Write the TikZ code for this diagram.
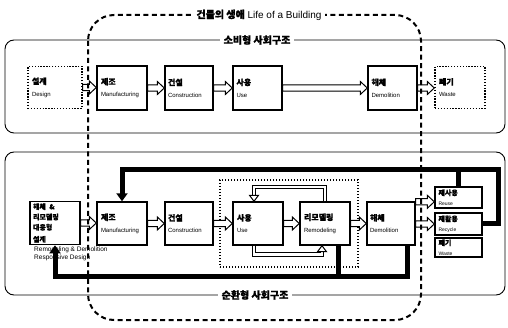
\documentclass[tikz,border=0pt]{standalone}
\usepackage{fontspec}
\setmainfont{Liberation Sans}
\newfontfamily\kr{Noto Sans CJK KR}[FakeBold=1]
\usetikzlibrary{arrows.meta,calc}
\newcommand\mybx[2]{{\kr\bfseries\fontsize{8}{9}\selectfont #1}\\[0pt]{\fontsize{6}{7}\selectfont #2}}
\newcommand\mybxs[2]{{\kr\bfseries\fontsize{7}{8}\selectfont #1}\\[-2pt]{\fontsize{5}{6}\selectfont #2}}
\begin{document}
\begin{tikzpicture}[x=1pt,y=-1pt,
 box/.style={draw, line width=1.4pt, fill=white, inner sep=2pt, align=left, text width=42pt, minimum width=50pt, minimum height=44pt},
 sbox/.style={draw, line width=1.4pt, fill=white, inner sep=1pt, align=left, text width=40pt, minimum width=47pt},
 dbox/.style={box, dash pattern=on 1.3pt off 1.6pt, line width=1.4pt},
 grpbox/.style={draw, dash pattern=on 1.2pt off 1.8pt, line width=1.1pt},
 panel/.style={draw, line width=0.9pt, rounded corners=9pt},
 ptitle/.style={fill=white, inner sep=4pt, font=\kr\bfseries\fontsize{10}{12}\selectfont},
 blockarrow/.style={draw, line width=1pt, fill=white, to path={let \p1=(\tikztostart),\p2=(\tikztotarget) in (\x1,\y1+3.2pt) -- (\x2-7pt,\y1+3.2pt) -- (\x2-7pt,\y1+6.5pt) -- (\x2,\y1) -- (\x2-7pt,\y1-6.5pt) -- (\x2-7pt,\y1-3.2pt) -- (\x1,\y1-3.2pt) -- cycle}},
 heavy/.style={line width=5pt, line join=miter, draw=black},
 heavyarrow/.style={heavy, -{Triangle[length=8pt,width=11pt]}},
 loopline/.style={draw=black, double=white, double distance=2.4pt, line width=1pt},
 looptip/.style={draw, fill=white, line width=1pt},
 bigdash/.style={line width=2pt, dash pattern=on 5pt off 3.5pt},
]
\useasboundingbox (0,0) rectangle (508,328);

% panels
\draw[panel] (5,40) rectangle (505,133);
\draw[panel] (5,152) rectangle (505,295);
\node[ptitle] (t1) at (257,40) {소비형 사회구조};
\node[ptitle] (t2) at (255,295) {순환형 사회구조};

% top row
\node[dbox, minimum width=54pt, minimum height=42pt, text width=46pt] (des1) at (55,87.5) {\mybx{설계}{Design}};
\node[box] (mfg1) at (122,88) {\mybx{제조}{Manufacturing}};
\node[box, minimum width=48pt] (con1) at (189,88) {\mybx{건설}{Construction}};
\node[box, minimum width=49pt] (use1) at (257.5,88) {\mybx{사용}{Use}};
\node[box, minimum width=49pt] (dem1) at (392.5,88) {\mybx{해체}{Demolition}};
\node[dbox, minimum width=50pt, minimum height=42pt] (was1) at (460,87.5) {\mybx{폐기}{Waste}};

\draw[blockarrow] (des1.east) to (mfg1.west);
\draw[blockarrow] (mfg1.east) to (con1.west);
\draw[blockarrow] (con1.east) to (use1.west);
\draw[blockarrow] (use1.east) to (dem1.west);
\draw[blockarrow] (dem1.east) to (was1.west);

% bottom row
\node[grpbox, minimum width=138pt, minimum height=87pt] (grp) at (289,223.5) {};
\node[box, minimum height=40pt, text width=44pt] (des2) at (55,223) {\kr\bfseries\fontsize{7}{10.3}\selectfont 해체 \&\\리모델링\\대응형\\설계};
\node[anchor=north west, inner sep=0pt, align=left, font=\fontsize{6.5}{8}\selectfont] (cap) at (34,246.5) {Remodeling \& Demolition\\Responsive Design};
\node[box, minimum height=43pt] (mfg2) at (122,223.5) {\mybx{제조}{Manufacturing}};
\node[box, minimum width=48pt, minimum height=43pt] (con2) at (189,223.5) {\mybx{건설}{Construction}};
\node[box, minimum height=43pt] (use2) at (258,223.5) {\mybx{사용}{Use}};
\node[box, minimum height=43pt] (rem2) at (325,223.5) {\mybx{리모델링}{Remodeling}};
\node[box, minimum width=48pt, minimum height=43pt] (dem2) at (391,223.5) {\mybx{해체}{Demolition}};
\node[sbox, minimum height=21pt] (reu) at (458.5,197.5) {\mybxs{재사용}{Reuse}};
\node[sbox, minimum height=22pt] (rec) at (458.5,224) {\mybxs{재활용}{Recycle}};
\node[sbox, minimum height=19pt] (was2) at (458.5,247.5) {\mybxs{폐기}{Waste}};

\draw[blockarrow] (des2.east) to (mfg2.west);
\draw[blockarrow] (mfg2.east) to (con2.west);
\draw[blockarrow] (con2.east) to (use2.west);
\draw[blockarrow] (use2.east) to (rem2.west);
\draw[blockarrow] (rem2.east) to (dem2.west);
\draw[blockarrow] ([yshift=-0.5pt]dem2.north east) to ([yshift=-0.5pt]reu.west |- dem2.north east);
\draw[blockarrow] (dem2.east |- rec.west) to (rec.west);

% loops between use and remodeling
\coordinate (ltop) at ([xshift=-4pt,yshift=14pt]use2.north);
\coordinate (lbot) at ([xshift=-3pt,yshift=-9pt]rem2.south);
\draw[loopline] (rem2.north) -- (rem2.north |- ltop) -- (ltop) -- ([xshift=-4pt,yshift=6pt]use2.north);
\draw[looptip] ([xshift=-8.5pt,yshift=6pt]use2.north) -- ([xshift=0.5pt,yshift=6pt]use2.north) -- ([xshift=-4pt]use2.north) -- cycle;
\draw[loopline] ([xshift=-4pt]use2.south) -- ([xshift=-4pt]use2.south |- lbot) -- (lbot) -- ([xshift=-3pt,yshift=-6pt]rem2.south);
\draw[looptip] ([xshift=-7.5pt,yshift=-6pt]rem2.south) -- ([xshift=1.5pt,yshift=-6pt]rem2.south) -- ([xshift=-3pt]rem2.south) -- cycle;

% heavy feedback lines
\coordinate (tr) at (498,170);
\coordinate (bl) at (55,277);
\draw[heavyarrow] (rec.east) -| (tr) -| (mfg2.north);
\draw[heavy] (reu.north) -- (reu.north |- tr);
\draw[heavyarrow] ([xshift=16pt]dem2.south) |- (bl) -- (des2.south);
\draw[heavy] ([xshift=13pt]rem2.south) -- ([xshift=13pt]rem2.south |- bl);

% life of a building
\draw[bigdash, rounded corners=26pt] (88,15) rectangle (421,320);
\node[fill=white, inner sep=3pt, font=\fontsize{10}{12}\selectfont] (life) at (259,15) {{\kr\bfseries 건물의 생애} Life of a Building};
\end{tikzpicture}
\end{document}
